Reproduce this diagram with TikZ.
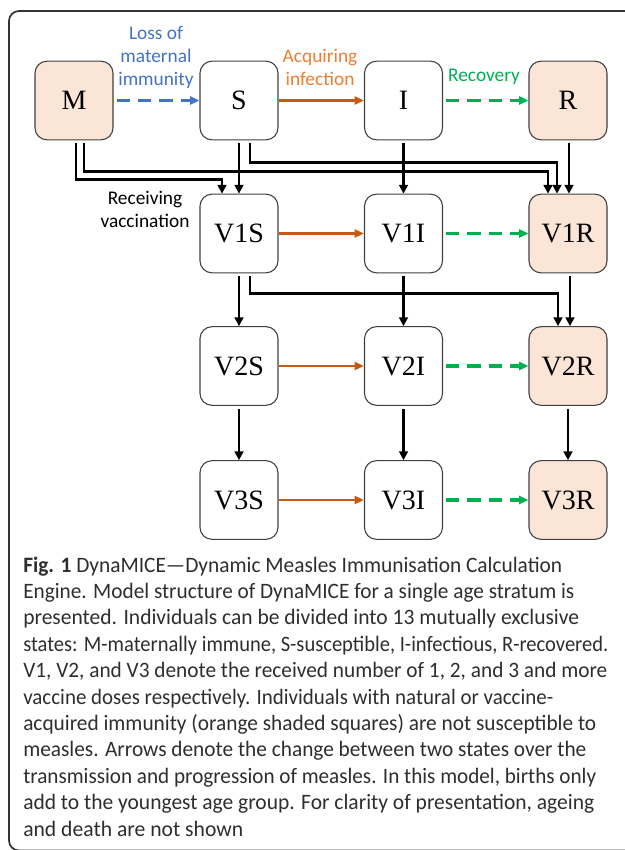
\documentclass[tikz,border=0pt]{standalone}
\usepackage{fontspec}
\usepackage{graphicx}
\setmainfont{Liberation Serif}
\newfontfamily\labfont{Carlito}
\newfontfamily\capfont{Carlito}
\usetikzlibrary{arrows.meta,calc}
\definecolor{boxfill}{HTML}{FBE5D6}
\definecolor{boxline}{HTML}{404040}
\definecolor{lossblue}{HTML}{4472C4}
\definecolor{infor}{HTML}{C55A11}
\definecolor{infortxt}{HTML}{ED7D31}
\definecolor{recgreen}{HTML}{00B050}
\definecolor{captxt}{HTML}{2E2E2E}
\newcommand\capfit[2]{\resizebox{#1}{\height}{#2}}
\tikzset{
  state/.style={draw=boxline, line width=0.8pt, rounded corners=9pt, minimum width=58.5pt, minimum height=59pt, inner sep=0pt, font=\fontsize{21}{21}\selectfont},
  immune/.style={state, fill=boxfill},
  blk/.style={line width=2.2pt, -{Triangle[length=6.5pt,width=6.5pt]}},
  infarrow/.style={draw=infor, line width=2.2pt, -{Triangle[length=7pt,width=6pt]}, color=infor},
  recarrow/.style={color=recgreen, line width=2.3pt, dash pattern=on 10pt off 6pt, -{Triangle[length=7pt,width=6pt]}},
  lossarrow/.style={color=lossblue, line width=2.3pt, dash pattern=on 10pt off 6pt, -{Triangle[length=7pt,width=6pt]}},
  lab/.style={font=\labfont\fontsize{14.5}{17.25}\selectfont, align=center, inner sep=0pt},
  capline/.style={font=\capfont\fontsize{16.5}{19}\selectfont, anchor=base west, inner sep=0pt, text=captxt},
}
\begin{document}
\begin{tikzpicture}[x=0.75pt, y=-0.75pt]
\useasboundingbox (0,0) rectangle (625,850);
\clip (0,0) rectangle (625,850);
\draw[draw=black!80, line width=1.3pt, rounded corners=7.5pt] (660,11) -- (9,11) -- (9,850.5) -- (660,850.5);

% states
\node[immune] (M) at (74,100.5) {M};
\node[state] (S) at (239,100.5) {S};
\node[state] (I) at (403.5,100.5) {I};
\node[immune] (R) at (568,100.5) {R};
\node[state] (V1S) at (239,233.5) {V1S};
\node[state] (V1I) at (403.5,233.5) {V1I};
\node[immune] (V1R) at (568,233.5) {V1R};
\node[state] (V2S) at (239,366) {V2S};
\node[state] (V2I) at (403.5,366) {V2I};
\node[immune] (V2R) at (568,366) {V2R};
\node[state] (V3S) at (239,500) {V3S};
\node[state] (V3I) at (403.5,500) {V3I};
\node[immune] (V3R) at (568,500) {V3R};

% labels
\node[lab, text=lossblue] (lossl) at (156,57) {Loss of\\maternal\\immunity};
\node[lab, text=infortxt] (acql) at (320,67) {Acquiring\\infection};
\node[lab, text=recgreen] (recl) at (484,77) {Recovery};
\node[lab, text=black] (vacl) at (145,209) {Receiving\\vaccination};

% horizontal arrows
\draw[lossarrow] ([shift={(3,0)}]M.east) -- (S.west);
\draw[infarrow] (S.east) -- (I.west);
\draw[recarrow] ([shift={(3,0)}]I.east) -- (R.west);
\draw[infarrow] (V1S.east) -- (V1I.west);
\draw[recarrow] ([shift={(3,0)}]V1I.east) -- (V1R.west);
\draw[infarrow] (V2S.east) -- (V2I.west);
\draw[recarrow] ([shift={(3,0)}]V2I.east) -- (V2R.west);
\draw[infarrow] (V3S.east) -- (V3I.west);
\draw[recarrow] ([shift={(3,0)}]V3I.east) -- (V3R.west);

% vaccination / vertical arrows
\draw[blk] ([shift={(2,3)}]M.south) -- ++(0,36.5) -| ([shift={(-17,0)}]V1S.north);
\draw[blk] ([shift={(10,3)}]M.south) -- ++(0,28.5) -| ([shift={(-20,0)}]V1R.north);
\draw[blk] ([shift={(0,3)}]S.south) -- (V1S.north);
\draw[blk] ([shift={(11,3)}]S.south) -- ++(0,19.5) -| ([shift={(-11,0)}]V1R.north);
\draw[blk] ([shift={(0,3)}]I.south) -- (V1I.north);
\draw[blk] ([shift={(1,3)}]R.south) -- ([shift={(1,0)}]V1R.north);

\draw[blk] ([shift={(0,3)}]V1S.south) -- (V2S.north);
\draw[blk] ([shift={(11,3)}]V1S.south) -- ++(0,17) -| ([shift={(-10,0)}]V2R.north);
\draw[blk] ([shift={(0,3)}]V1I.south) -- (V2I.north);
\draw[blk] ([shift={(2,3)}]V1R.south) -- ([shift={(2,0)}]V2R.north);

\draw[blk] ([shift={(0,3)}]V2S.south) -- (V3S.north);
\draw[blk] ([shift={(0,3)}]V2I.south) -- (V3I.north);
\draw[blk] ([shift={(0,3)}]V2R.south) -- (V3R.north);

% caption
\node[capline] (c1) at (23,572) {\capfit{404.25pt}{\textbf{Fig. 1} DynaMICE—Dynamic Measles Immunisation Calculation}};
\node[capline] (c2) at (23,598.4) {\capfit{413.25pt}{Engine. Model structure of DynaMICE for a single age stratum is}};
\node[capline] (c3) at (23,624.8) {\capfit{417pt}{presented. Individuals can be divided into 13 mutually exclusive}};
\node[capline] (c4) at (23,651.2) {\capfit{438.75pt}{states: M-maternally immune, S-susceptible, I-infectious, R-recovered.}};
\node[capline] (c5) at (23,677.6) {\capfit{438pt}{V1, V2, and V3 denote the received number of 1, 2, and 3 and more}};
\node[capline] (c6) at (23,704) {\capfit{397.5pt}{vaccine doses respectively. Individuals with natural or vaccine-}};
\node[capline] (c7) at (23,730.4) {\capfit{429.75pt}{acquired immunity (orange shaded squares) are not susceptible to}};
\node[capline] (c8) at (23,756.8) {\capfit{422.25pt}{measles. Arrows denote the change between two states over the}};
\node[capline] (c9) at (23,783.2) {\capfit{429.75pt}{transmission and progression of measles. In this model, births only}};
\node[capline] (c10) at (23,809.6) {\capfit{428.25pt}{add to the youngest age group. For clarity of presentation, ageing}};
\node[capline] (c11) at (23,836) {\capfit{165pt}{and death are not shown}};
\end{tikzpicture}
\end{document}
